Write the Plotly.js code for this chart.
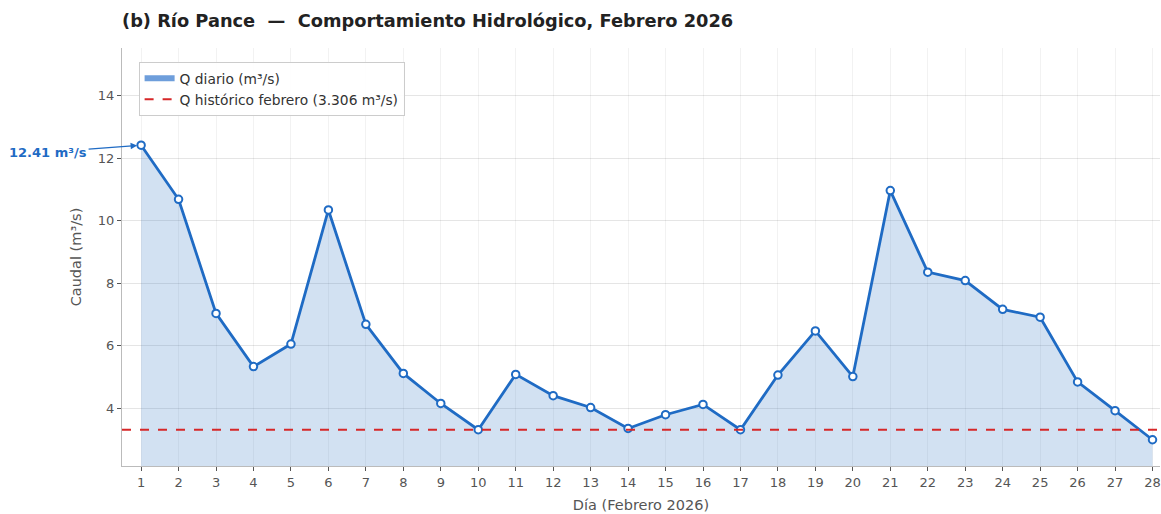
<!DOCTYPE html>
<html>
<head>
<meta charset="utf-8">
<script src="https://cdn.plot.ly/plotly-3.0.1.min.js"></script>
<style>html,body{margin:0;padding:0;background:#fff;}#chart{width:1161px;height:514px;}</style>
</head>
<body>
<div id="chart"></div>
<script>
const days = [1,2,3,4,5,6,7,8,9,10,11,12,13,14,15,16,17,18,19,20,21,22,23,24,25,26,27,28];
const caudal = [12.41,10.68,7.03,5.33,6.05,10.34,6.68,5.11,4.15,3.31,5.08,4.40,4.02,3.35,3.79,4.12,3.31,5.06,6.47,5.01,10.96,8.35,8.08,7.16,6.91,4.84,3.92,2.99];
const qHistorico = 3.306;
const tickLabels = days.map(String);
const peakLabel = "12.41 m³/s";

const blue = "#1f6bc4";
const traces = [
  {x: days, y: caudal, type: "scatter", mode: "none", fill: "tozeroy",
   fillcolor: "rgba(74,134,204,0.25)", showlegend: false, hoverinfo: "skip"},
  {x: [null], y: [null], type: "scatter", mode: "none", fill: "toself",
   fillcolor: "rgba(74,134,210,0.8)", line: {color: "#4a86d2", width: 1},
   name: "Q diario (m³/s)", showlegend: true},
  {x: days, y: caudal, type: "scatter", mode: "lines+markers",
   line: {color: blue, width: 2.8},
   marker: {size: 7.5, color: "#ffffff", line: {color: blue, width: 2}},
   showlegend: false},
  {x: [null], y: [null], type: "scatter", mode: "lines",
   line: {color: "#d62728", width: 2, dash: "dash"},
   name: "Q histórico febrero (" + qHistorico.toFixed(3) + " m³/s)", showlegend: true}
];

const layout = {
  width: 1161, height: 514,
  margin: {l: 122, r: 1, t: 48, b: 48},
  paper_bgcolor: "#ffffff", plot_bgcolor: "#ffffff",
  font: {family: "DejaVu Sans, sans-serif", color: "#555555", size: 13},
  title: {text: "<b>(b) Río Pance  —  Comportamiento Hidrológico, Febrero 2026</b>",
          font: {size: 17.8, color: "#222222"}, x: 0, xref: "paper", xanchor: "left",
          y: 0.96, yanchor: "middle"},
  xaxis: {range: [0.49, 28.2], tickvals: days, ticktext: tickLabels,
          showgrid: true, gridcolor: "rgba(0,0,0,0.05)", gridwidth: 1,
          showline: true, linecolor: "#bbbbbb", linewidth: 1,
          ticks: "outside", ticklen: 4, tickcolor: "#555555", zeroline: false,
          tickfont: {size: 13, color: "#555555"},
          title: {text: "Día (Febrero 2026)", font: {size: 14.5, color: "#555555"}, standoff: 11}},
  yaxis: {range: [2.15, 15.52], tickvals: [4,6,8,10,12,14],
          showgrid: true, gridcolor: "rgba(0,0,0,0.1)", gridwidth: 1,
          showline: true, linecolor: "#bbbbbb", linewidth: 1,
          ticks: "outside", ticklen: 4, tickcolor: "#555555", zeroline: false,
          tickfont: {size: 13, color: "#555555"},
          title: {text: "Caudal (m³/s)", font: {size: 14.5, color: "#555555"}, standoff: 12}},
  legend: {x: 0.016, y: 0.967, xanchor: "left", yanchor: "top",
           bgcolor: "rgba(255,255,255,0.9)", bordercolor: "#cccccc", borderwidth: 1,
           font: {size: 13.8, color: "#333333"}, tracegroupgap: 2},
  shapes: [{type: "line", xref: "paper", yref: "y", x0: 0, x1: 1, y0: qHistorico, y1: qHistorico,
            line: {color: "#d62728", width: 2, dash: "dash"}, layer: "above"}],
  annotations: [{x: days[0], y: caudal[0], xref: "x", yref: "y", text: "<b>" + peakLabel + "</b>",
                 showarrow: true, ax: -93, ay: 7, arrowhead: 2, arrowsize: 1, arrowwidth: 1.3,
                 arrowcolor: blue, standoff: 4, font: {size: 13, color: blue}}]
};

Plotly.newPlot("chart", traces, layout, {displayModeBar: false, staticPlot: true});
</script>
</body>
</html>
